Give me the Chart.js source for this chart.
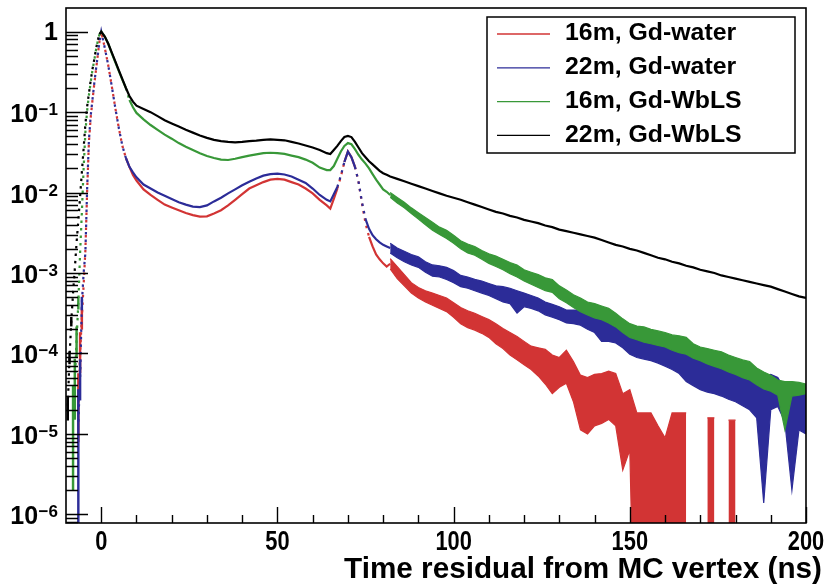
<!DOCTYPE html>
<html>
<head>
<meta charset="utf-8">
<script src="https://cdn.jsdelivr.net/npm/chart.js@4/dist/chart.umd.min.js"></script>
<style>
  html, body { margin: 0; padding: 0; background: #ffffff; }
  canvas { display: block; }
</style>
</head>
<body>
<canvas id="c" width="826" height="587"></canvas>
<script>
// ---------------- data ----------------
// All values are log10(normalised entries).
const seriesLabels = ["16m, Gd-water", "22m, Gd-water", "16m, Gd-WbLS", "22m, Gd-WbLS"];
const seriesColors = ["#d23434", "#2c2c98", "#389838", "#000000"];

const xTickLabels = [0, 50, 100, 150, 200];
const yDecades = [-6, -5, -4, -3, -2, -1, 0];
const xTitle = "Time residual from MC vertex (ns)";

// bin centres (ns) of the rising edge, the two peaks and the plateau
const timeMain = [-9.5,-9,-8.5,-8,-7.5,-7,-6.5,-6,-5.5,-5,-4.5,-4,-3.5,-3,-2.5,-2,-1.5,-1,-0.5,0,
  1,2,3,4,5,6,7,8,9,10,
  12,14,16,18,20,22,24,26,28,30,32,34,36,38,40,42,44,46,48,50,52,54,56,58,60,62,64,
  65,66,67,68,69,70,71,72,73,74,75,76,77,78,79,80,81,82];

const redMainLog = [null,null,null,null,null,null,-4.7,-4.0,-3.55,-3.15,-2.72,-1.98,-1.38,-1.07,-0.86,-0.66,-0.48,-0.3,-0.12,0,
  -0.2,-0.42,-0.68,-0.95,-1.2,-1.42,-1.57,-1.68,-1.78,-1.85,
  -1.96,-2.03,-2.09,-2.15,-2.185,-2.22,-2.255,-2.28,-2.30,-2.295,
  -2.26,-2.22,-2.16,-2.09,-2.02,-1.95,-1.91,-1.87,-1.84,-1.83,
  -1.84,-1.87,-1.90,-1.95,-2.01,-2.09,-2.16,
  -2.20,-2.08,-1.95,-1.80,-1.62,-1.49,-1.56,-1.68,-1.86,-2.14,-2.38,-2.55,-2.67,-2.77,-2.83,-2.88,-2.92,-2.885];

const blueMainLog = [null,null,null,null,null,null,-4.85,-4.3,-3.38,-3.0,-2.75,-1.95,-1.35,-1.05,-0.85,-0.65,-0.47,-0.3,-0.12,0,
  -0.2,-0.42,-0.68,-0.95,-1.2,-1.42,-1.57,-1.68,-1.75,-1.81,
  -1.90,-1.95,-2.00,-2.04,-2.08,-2.12,-2.15,-2.175,-2.18,-2.16,
  -2.11,-2.065,-2.01,-1.96,-1.91,-1.865,-1.825,-1.79,-1.77,-1.765,
  -1.775,-1.80,-1.84,-1.88,-1.95,-2.03,-2.09,
  -2.11,-2.02,-1.93,-1.79,-1.62,-1.49,-1.56,-1.68,-1.86,-2.12,-2.33,-2.45,-2.53,-2.58,-2.62,-2.65,-2.67,-2.69];

const greenMainLog = [null,null,null,-4.8,-4.35,-3.83,-3.37,-2.75,-2.25,-1.7,-1.25,-0.98,-0.79,-0.63,-0.48,-0.36,-0.23,-0.12,-0.03,0,
  -0.06,-0.15,-0.27,-0.38,-0.49,-0.6,-0.7,-0.85,-0.94,-1.01,
  -1.09,-1.16,-1.22,-1.28,-1.33,-1.385,-1.43,-1.47,-1.51,-1.545,
  -1.57,-1.59,-1.595,-1.58,-1.56,-1.54,-1.525,-1.51,-1.505,-1.51,
  -1.52,-1.54,-1.56,-1.59,-1.63,-1.69,-1.72,
  -1.72,-1.67,-1.58,-1.49,-1.42,-1.385,-1.40,-1.46,-1.53,-1.59,-1.64,-1.70,-1.77,-1.84,-1.90,-1.96,-1.99,-2.03];

const blackMainLog = [-4.65,-4.05,-3.6,-3.25,-2.95,-2.62,-2.35,-2.05,-1.75,-1.45,-1.15,-0.93,-0.77,-0.61,-0.47,-0.35,-0.22,-0.11,-0.03,0,
  -0.06,-0.15,-0.26,-0.37,-0.48,-0.59,-0.7,-0.80,-0.87,-0.92,
  -0.96,-1.00,-1.05,-1.10,-1.14,-1.18,-1.22,-1.255,-1.29,-1.32,
  -1.345,-1.36,-1.37,-1.375,-1.37,-1.36,-1.355,-1.345,-1.34,-1.345,
  -1.35,-1.37,-1.39,-1.415,-1.44,-1.47,-1.51,
  -1.52,-1.47,-1.42,-1.36,-1.31,-1.295,-1.31,-1.37,-1.44,-1.51,-1.56,-1.61,-1.65,-1.69,-1.73,-1.76,-1.78,-1.80];

// tail bins (2 ns)
const timeTail = [84,86,88,90,92,94,96,98,100,102,104,106,108,110,112,114,116,118,120,
  122,124,126,128,130,132,134,136,138,140,142,144,146,148,150,152,154,156,158,160,
  162,164,166,168,170,172,174,176,178,180,182,184,186,188,190,192,194,196,198,200];
const timeBand = [82].concat(timeTail);

const blackTailLog = [-1.83,-1.86,-1.89,-1.92,-1.95,-1.98,-2.01,-2.04,-2.065,
  -2.09,-2.12,-2.15,-2.18,-2.21,-2.24,-2.26,-2.29,-2.31,-2.34,
  -2.36,-2.38,-2.41,-2.43,-2.46,-2.48,-2.50,-2.52,-2.54,-2.56,
  -2.59,-2.62,-2.65,-2.67,-2.70,-2.72,-2.75,-2.78,-2.81,-2.83,
  -2.86,-2.88,-2.91,-2.93,-2.96,-2.98,-3.00,-3.03,-3.05,-3.07,
  -3.09,-3.11,-3.13,-3.15,-3.17,-3.20,-3.23,-3.26,-3.29,-3.31];

// upper / lower ends of the error bars from 82 ns on (log10); -9 = bar reaches below the axis
const greenTailHiLog = [-2.00,-2.06,-2.12,-2.19,-2.25,-2.31,-2.37,-2.43,-2.47,-2.53,
  -2.60,-2.64,-2.67,-2.72,-2.76,-2.79,-2.83,-2.87,-2.90,-2.96,
  -2.99,-3.02,-3.06,-3.08,-3.16,-3.21,-3.27,-3.31,-3.36,-3.38,
  -3.41,-3.44,-3.50,-3.57,-3.63,-3.66,-3.67,-3.70,-3.72,-3.74,
  -3.77,-3.78,-3.80,-3.88,-3.92,-3.94,-3.96,-3.98,-4.02,-4.05,
  -4.08,-4.10,-4.18,-4.23,-4.27,-4.33,-4.35,-4.35,-4.36,-4.38];
const greenTailLoLog = [-2.06,-2.13,-2.19,-2.26,-2.33,-2.40,-2.47,-2.52,-2.57,-2.63,
  -2.70,-2.75,-2.78,-2.83,-2.88,-2.92,-2.96,-3.01,-3.05,-3.10,
  -3.14,-3.18,-3.22,-3.24,-3.32,-3.37,-3.43,-3.48,-3.52,-3.56,
  -3.58,-3.62,-3.67,-3.74,-3.80,-3.83,-3.86,-3.88,-3.90,-3.92,
  -3.96,-3.99,-4.01,-4.06,-4.09,-4.13,-4.16,-4.19,-4.23,-4.26,
  -4.30,-4.33,-4.39,-4.44,-4.47,-4.52,-4.95,-4.53,-4.52,-4.50];

const blueTailHiLog = [-2.63,-2.69,-2.73,-2.77,-2.80,-2.86,-2.90,-2.91,-2.93,-2.97,
  -3.03,-3.05,-3.08,-3.10,-3.13,-3.16,-3.17,-3.19,-3.22,-3.25,
  -3.28,-3.31,-3.36,-3.39,-3.42,-3.46,-3.46,-3.46,-3.50,-3.53,
  -3.55,-3.61,-3.67,-3.72,-3.77,-3.80,-3.84,-3.87,-3.89,-3.92,
  -3.93,-3.95,-3.97,-4.03,-4.08,-4.10,-4.12,-4.15,-4.19,-4.21,
  -4.23,-4.25,-4.27,-4.29,-4.26,-4.30,-4.45,-4.37,-4.45,-4.50];
const blueTailLoLog = [-2.75,-2.81,-2.86,-2.90,-2.93,-2.99,-3.04,-3.05,-3.08,-3.12,
  -3.17,-3.19,-3.22,-3.25,-3.28,-3.32,-3.36,-3.38,-3.50,-3.42,
  -3.44,-3.47,-3.52,-3.55,-3.58,-3.62,-3.63,-3.65,-3.70,-3.74,
  -3.85,-3.85,-3.87,-3.93,-4.01,-4.05,-4.07,-4.09,-4.12,-4.16,
  -4.20,-4.25,-4.35,-4.40,-4.45,-4.48,-4.50,-4.53,-4.57,-4.60,
  -4.65,-4.70,-4.80,-5.86,-4.70,-4.66,-4.85,-5.70,-4.95,-5.00];

const redTailHiLog = [-2.82,-2.92,-3.02,-3.12,-3.18,-3.22,-3.25,-3.28,-3.31,-3.37,
  -3.43,-3.47,-3.50,-3.54,-3.58,-3.63,-3.69,-3.74,-3.79,-3.85,
  -3.91,-3.93,-3.95,-4.02,-4.05,-3.96,-4.10,-4.27,-4.30,-4.26,
  -4.25,-4.22,-4.25,-4.50,-4.45,-4.74,-4.74,-4.74,-4.90,-5.05,
  -4.74,-4.74,-4.74,null,null,-4.80,-4.80,null,-4.83,-4.83,
  null,null,null,null,null,null,null,null,null,null];
const redTailLoLog = [-2.95,-3.07,-3.16,-3.25,-3.31,-3.36,-3.40,-3.44,-3.48,-3.55,
  -3.63,-3.68,-3.71,-3.75,-3.80,-3.88,-3.94,-4.02,-4.08,-4.14,
  -4.20,-4.28,-4.38,-4.50,-4.42,-4.37,-4.60,-4.95,-5.00,-4.90,
  -4.87,-4.82,-4.90,-5.45,-5.20,-9,-9,-9,-9,-9,
  -9,-9,-9,null,null,-9,-9,null,-9,-9,
  null,null,null,null,null,null,null,null,null,null];

// error bars of the sparse bins before the prompt peak
const timePre = [-9.5,-9,-8.5,-8,-7.5,-7,-6.5,-6,-5.5];
const blackPreHiLog = [-4.55,-3.98,-3.55,null,null,null,null,null,null];
const blackPreLoLog = [-4.83,-4.13,-3.66,null,null,null,null,null,null];
const greenPreHiLog = [null,null,null,-4.40,-4.07,-3.67,-3.30,null,null];
const greenPreLoLog = [null,null,null,-5.70,-4.82,-4.04,-3.45,null,null];
const bluePreHiLog  = [null,null,null,null,null,null,-4.45,-4.08,-3.30];
const bluePreLoLog  = [null,null,null,null,null,null,-9,-4.58,-3.46];
const redPreHiLog   = [null,null,null,null,null,null,-4.25,-3.74,-3.45];
const redPreLoLog   = [null,null,null,null,null,null,-5.10,-4.24,-3.70];

// ---------------- build datasets ----------------
const toVal = v => (v === null ? null : Math.pow(10, v));
const lineData = (times, logs) => times.map((t, i) => ({ x: t, y: toVal(logs[i]) }));
const barData = (times, lo, hi) => times
  .map((t, i) => (hi[i] === null ? null : { x: t, y: [toVal(lo[i]), toVal(hi[i])] }))
  .filter(Boolean);

const steepDash = c => {
  const dx = Math.abs(c.p1.x - c.p0.x), dy = Math.abs(c.p1.y - c.p0.y);
  return dy > 3 * dx ? [2.5, 5] : undefined;
};

function lineSet(i, data, order, width) {
  return {
    type: 'line', label: seriesLabels[i], data, order,
    borderColor: seriesColors[i], backgroundColor: seriesColors[i],
    borderWidth: width, pointRadius: 0, tension: 0, spanGaps: false, fill: false,
    segment: { borderDash: steepDash }
  };
}
// error band in the tail: upper edge filled down to the following (lower edge) dataset
function bandSets(i, hiLog, loLog, order) {
  const common = {
    type: 'line', borderColor: seriesColors[i], backgroundColor: seriesColors[i],
    borderWidth: 1.2, pointRadius: 0, tension: 0, spanGaps: false, order
  };
  return [
    Object.assign({ label: '_hi' + i, data: lineData(timeBand, hiLog), fill: '+1' }, common),
    Object.assign({ label: '_lo' + i, data: lineData(timeBand, loLog), fill: false }, common)
  ];
}
function barSet(i, data, order, thickness) {
  return {
    type: 'bar', label: '_err' + i, data, order,
    backgroundColor: seriesColors[i], borderWidth: 0,
    grouped: false, barThickness: thickness, skipNull: true
  };
}

const datasets = [
  lineSet(0, lineData(timeMain, redMainLog), 3, 2.2),
  lineSet(1, lineData(timeMain, blueMainLog), 2, 2.2),
  lineSet(2, lineData(timeMain, greenMainLog), 1, 2.2),
  lineSet(3, lineData(timeMain.concat(timeTail), blackMainLog.concat(blackTailLog)), 0, 2.2),
  ...bandSets(0, redTailHiLog, redTailLoLog, 3.5),
  ...bandSets(1, blueTailHiLog, blueTailLoLog, 2.5),
  ...bandSets(2, greenTailHiLog, greenTailLoLog, 1.5),
  barSet(0, barData(timePre, redPreLoLog, redPreHiLog), 3.5, 1.8),
  barSet(1, barData(timePre, bluePreLoLog, bluePreHiLog), 2.5, 1.8),
  barSet(2, barData(timePre, greenPreLoLog, greenPreHiLog), 1.5, 1.8),
  barSet(3, barData(timePre, blackPreLoLog, blackPreHiLog), 0.5, 1.8)
];

// ---------------- ROOT-like frame, ticks, labels, legend ----------------
const FONT = '"Liberation Sans", Arial, Helvetica, sans-serif';
const rootStyle = {
  id: 'rootStyle',
  afterDatasetsDraw(chart) {
    const { ctx, chartArea: a, scales: { x, y } } = chart;
    ctx.save();
    ctx.strokeStyle = '#000';
    ctx.fillStyle = '#000';

    // ticks
    ctx.lineWidth = 1.4;
    ctx.beginPath();
    for (let e = -7; e <= 0; e++) {
      for (let m = 1; m <= 9; m++) {
        const v = m * Math.pow(10, e);
        if (v < y.min || v > y.max) continue;
        const py = Math.round(y.getPixelForValue(v)) + 0.5;
        ctx.moveTo(a.left, py);
        ctx.lineTo(a.left + (m === 1 ? 22 : 12), py);
      }
    }
    for (let t = 0; t <= 200; t += 10) {
      const px = Math.round(x.getPixelForValue(t)) + 0.5;
      ctx.moveTo(px, a.bottom);
      ctx.lineTo(px, a.bottom - (t % 50 === 0 ? 16 : 8));
    }
    ctx.stroke();

    // frame
    ctx.lineWidth = 1.6;
    ctx.strokeRect(a.left, a.top, a.right - a.left, a.bottom - a.top);

    // y labels: 1, 10^-1 ... 10^-6
    const labelRight = a.left - 8;
    yDecades.forEach(e => {
      const py = y.getPixelForValue(Math.pow(10, e));
      if (e === 0) {
        ctx.font = 'bold 25px ' + FONT;
        ctx.textAlign = 'right';
        ctx.textBaseline = 'alphabetic';
        ctx.fillText('1', labelRight, py + 8.5);
      } else {
        const sup = '\u2212' + (-e);
        ctx.font = 'bold 17px ' + FONT;
        const sw = ctx.measureText(sup).width;
        ctx.textAlign = 'left';
        ctx.textBaseline = 'alphabetic';
        ctx.fillText(sup, labelRight - sw, py + 3);
        ctx.font = 'bold 25px ' + FONT;
        ctx.textAlign = 'right';
        ctx.fillText('10', labelRight - sw - 0.5, py + 10);
      }
    });

    // x labels
    ctx.font = 'bold 28px ' + FONT;
    ctx.textAlign = 'center';
    ctx.textBaseline = 'alphabetic';
    xTickLabels.forEach(v => {
      const px = x.getPixelForValue(v);
      ctx.save();
      ctx.translate(px, a.bottom + 27);
      ctx.scale(0.78, 1);
      ctx.fillText(String(v), 0, 0);
      ctx.restore();
    });

    // x title
    ctx.font = 'bold 29.7px ' + FONT;
    ctx.textAlign = 'right';
    ctx.fillText(xTitle, 822, 578);

    // legend
    const lx = 487, ly = 17, lw = 308, lh = 136;
    ctx.fillStyle = '#fff';
    ctx.fillRect(lx, ly, lw, lh);
    ctx.lineWidth = 1.5;
    ctx.strokeStyle = '#000';
    ctx.strokeRect(lx, ly, lw, lh);
    for (let i = 0; i < 4; i++) {
      const ry = 34 + i * 33.8;
      ctx.strokeStyle = seriesColors[i];
      ctx.lineWidth = 1.3;
      ctx.beginPath();
      ctx.moveTo(497, ry);
      ctx.lineTo(550, ry);
      ctx.stroke();
      ctx.fillStyle = '#000';
      ctx.font = 'bold 23px ' + FONT;
      ctx.textAlign = 'left';
      ctx.textBaseline = 'middle';
      ctx.save();
      ctx.translate(565, ry);
      ctx.scale(1.08, 1);
      ctx.fillText(chart.data.datasets[i].label, 0, 0);
      ctx.restore();
    }
    ctx.restore();
  }
};

new Chart(document.getElementById('c'), {
  type: 'line',
  data: { datasets },
  options: {
    responsive: false,
    devicePixelRatio: 1,
    animation: false,
    events: [],
    layout: { padding: { left: 66, right: 20, top: 8, bottom: 64 } },
    scales: {
      x: { type: 'linear', min: -10, max: 200, bounds: 'data', offset: false, display: false },
      y: { type: 'logarithmic', min: 7.8e-7, max: 1.97, bounds: 'data', display: false }
    },
    plugins: {
      legend: { display: false },
      tooltip: { enabled: false }
    }
  },
  plugins: [rootStyle]
});
</script>
</body>
</html>
